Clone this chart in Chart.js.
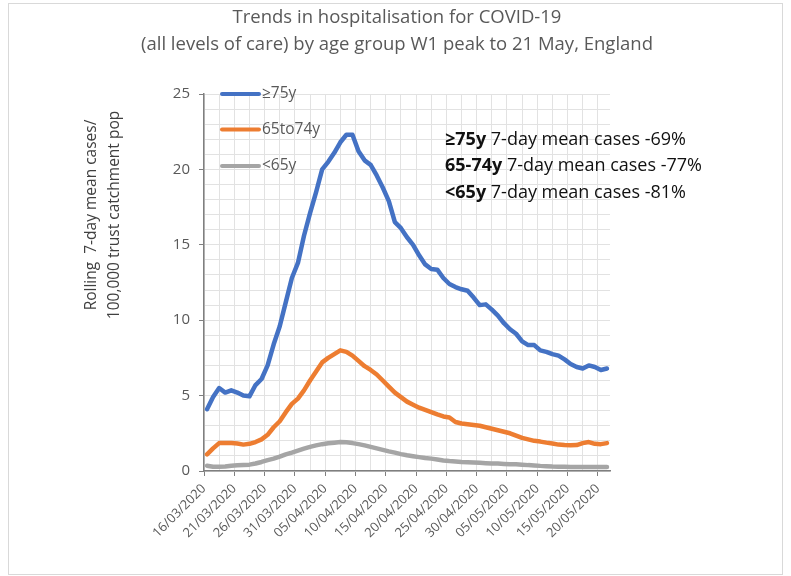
<!DOCTYPE html>
<html>
<head>
<meta charset="utf-8">
<script src="https://cdn.jsdelivr.net/npm/chart.js@4.4.1/dist/chart.umd.min.js"></script>
<style>
html, body { margin: 0; padding: 0; background: #fff; }
#wrap { position: relative; width: 791px; height: 576px; }
canvas { display: block; }
</style>
</head>
<body>
<div id="wrap"><canvas id="c" width="791" height="576"></canvas></div>
<script>
// series, one value per day from 16/03/2020 to 21/05/2020
var seriesNames = ['≥75y', '65to74y', '<65y'];
var seriesColors = ['#4472C4', '#ED7D31', '#A5A5A5'];

var over75 = [4.1, 4.9, 5.5, 5.2, 5.35, 5.2, 5.0, 4.95, 5.7, 6.1,
    7.0, 8.4, 9.6, 11.2, 12.8, 13.8, 15.6, 17.1, 18.5, 20.0,
    20.5, 21.1, 21.8, 22.3, 22.3, 21.2, 20.6, 20.3, 19.6, 18.8,
    17.9, 16.5, 16.1, 15.5, 15.0, 14.3, 13.7, 13.4, 13.35, 12.8,
    12.4, 12.2, 12.05, 11.95, 11.5, 11.0, 11.05, 10.7, 10.3, 9.8,
    9.4, 9.1, 8.6, 8.35, 8.35, 8.0, 7.9, 7.75, 7.65, 7.4,
    7.1, 6.9, 6.8, 7.0, 6.9, 6.7, 6.8];
var age65to74 = [1.1, 1.5, 1.85, 1.85, 1.85, 1.82, 1.75, 1.8, 1.92, 2.1,
    2.4, 2.9, 3.3, 3.9, 4.45, 4.8, 5.35, 6.0, 6.6, 7.2,
    7.5, 7.75, 8.0, 7.9, 7.65, 7.3, 6.95, 6.7, 6.4, 6.0,
    5.6, 5.2, 4.9, 4.6, 4.4, 4.2, 4.05, 3.9, 3.75, 3.62,
    3.55, 3.25, 3.15, 3.1, 3.05, 3.0, 2.9, 2.8, 2.7, 2.6,
    2.5, 2.35, 2.2, 2.1, 2.0, 1.95, 1.88, 1.82, 1.75, 1.72,
    1.7, 1.72, 1.85, 1.92, 1.8, 1.78, 1.85];
var under65 = [0.35, 0.28, 0.28, 0.3, 0.35, 0.38, 0.4, 0.42, 0.5, 0.6,
    0.72, 0.82, 0.95, 1.1, 1.22, 1.35, 1.48, 1.6, 1.7, 1.78,
    1.84, 1.88, 1.92, 1.9, 1.85, 1.78, 1.7, 1.6, 1.5, 1.4,
    1.3, 1.22, 1.12, 1.04, 0.98, 0.92, 0.86, 0.82, 0.76, 0.7,
    0.66, 0.63, 0.6, 0.58, 0.56, 0.54, 0.52, 0.5, 0.49, 0.47,
    0.45, 0.44, 0.42, 0.39, 0.37, 0.34, 0.32, 0.3, 0.29, 0.28,
    0.27, 0.27, 0.27, 0.27, 0.27, 0.27, 0.27];

var yMax = 25;
var yLabelStep = 5;
var xLabelStep = 5;   // a date label every 5 days
var xGridStep = 2.5;  // grid every 2.5 days

var notes = [
    ['≥75y', ' 7-day mean cases -69%'],
    ['65-74y', ' 7-day mean cases -77%'],
    ['<65y', ' 7-day mean cases -81%']
];

// date categories
var dates = [];
var d0 = new Date(2020, 2, 16);
for (var i = 0; i < over75.length; i++) {
    var d = new Date(d0.getFullYear(), d0.getMonth(), d0.getDate() + i);
    var dd = ('0' + d.getDate()).slice(-2);
    var mm = ('0' + (d.getMonth() + 1)).slice(-2);
    dates.push(dd + '/' + mm + '/' + d.getFullYear());
}

var FONT = '"Open Sans", "Noto Sans", sans-serif';

function toPoints(arr) {
    return arr.map(function (v, i) { return {x: i, y: v}; });
}

function isDateTick(value) {
    var k = value + 0.5;
    return Math.abs(k / xLabelStep - Math.round(k / xLabelStep)) < 1e-6;
}

// titles, legend and notes drawn on the canvas
var decorPlugin = {
    id: 'decor',
    afterDraw: function (chart) {
        var ctx = chart.ctx;
        ctx.save();
        // title
        ctx.fillStyle = '#595959';
        ctx.font = '18.5px ' + FONT;
        ctx.textAlign = 'center';
        ctx.textBaseline = 'middle';
        ctx.fillText('Trends in hospitalisation for COVID-19', 397, 18);
        ctx.fillText('(all levels of care) by age group W1 peak to 21 May, England', 397, 45);

        // y axis title
        ctx.save();
        ctx.translate(92, 215);
        ctx.rotate(-Math.PI / 2);
        ctx.fillStyle = '#404040';
        ctx.font = '15.5px ' + FONT;
        ctx.fillText('Rolling  7-day mean cases/', 0, 0);
        ctx.fillText('100,000 trust catchment pop', 0, 23);
        ctx.restore();

        // legend inside plot
        var legY = [94, 129.5, 166];
        chart.data.datasets.forEach(function (ds, i) {
            ctx.strokeStyle = ds.borderColor;
            ctx.lineWidth = 4;
            ctx.lineCap = 'round';
            ctx.beginPath();
            ctx.moveTo(222, legY[i]);
            ctx.lineTo(259, legY[i]);
            ctx.stroke();
            ctx.fillStyle = '#595959';
            ctx.font = '15.5px ' + FONT;
            ctx.textAlign = 'left';
            ctx.fillText(ds.label, 262, legY[i]);
        });

        // notes
        var noteY = [140, 166, 193];
        notes.forEach(function (n, i) {
            ctx.fillStyle = '#111';
            ctx.font = 'bold 18px ' + FONT;
            ctx.textAlign = 'left';
            ctx.fillText(n[0], 445, noteY[i]);
            var w = ctx.measureText(n[0]).width;
            ctx.font = '18px ' + FONT;
            ctx.fillText(n[1], 445 + w, noteY[i]);
        });

        // frame
        ctx.strokeStyle = '#d9d9d9';
        ctx.lineWidth = 1;
        ctx.strokeRect(8.5, 3.5, 774, 571);
        ctx.restore();
    }
};

new Chart(document.getElementById('c'), {
    type: 'line',
    data: {
        datasets: [
            {label: seriesNames[0], data: toPoints(over75), borderColor: seriesColors[0]},
            {label: seriesNames[1], data: toPoints(age65to74), borderColor: seriesColors[1]},
            {label: seriesNames[2], data: toPoints(under65), borderColor: seriesColors[2]}
        ].map(function (ds) {
            ds.borderWidth = 4.5;
            ds.pointRadius = 0;
            ds.tension = 0;
            ds.borderJoinStyle = 'round';
            ds.borderCapStyle = 'round';
            ds.fill = false;
            return ds;
        })
    },
    options: {
        responsive: false,
        animation: false,
        devicePixelRatio: 1,
        layout: {padding: {top: 94, right: 181, left: 0, bottom: 0}},
        plugins: {
            legend: {display: false},
            title: {display: false},
            tooltip: {enabled: false}
        },
        scales: {
            x: {
                type: 'linear',
                min: -0.5,
                max: over75.length - 0.5,
                afterBuildTicks: function (scale) {
                    var t = [];
                    for (var v = -0.5; v <= scale.max + 1e-9; v += xGridStep) t.push({value: v});
                    scale.ticks = t;
                },
                afterFit: function (scale) { scale.height = 105; },
                ticks: {
                    autoSkip: false,
                    maxRotation: 45,
                    minRotation: 45,
                    color: '#595959',
                    font: {family: FONT, size: 13},
                    padding: 5,
                    callback: function (value) {
                        return isDateTick(value) ? dates[Math.round(value + 0.5)] : '';
                    }
                },
                grid: {
                    color: '#e2e2e2',
                    lineWidth: 1,
                    tickLength: 5,
                    tickColor: function (c) {
                        return c.tick && isDateTick(c.tick.value) ? '#7f7f7f' : 'rgba(0,0,0,0)';
                    }
                },
                border: {color: '#7f7f7f', width: 1.5}
            },
            y: {
                min: 0,
                max: yMax,
                afterBuildTicks: function (scale) {
                    var t = [];
                    for (var v = 0; v <= yMax; v++) t.push({value: v});
                    scale.ticks = t;
                },
                afterFit: function (scale) { scale.width = 204; },
                ticks: {
                    autoSkip: false,
                    color: '#595959',
                    font: {family: FONT, size: 15},
                    padding: 9,
                    callback: function (value) {
                        return value % yLabelStep === 0 ? value : '';
                    }
                },
                grid: {
                    color: '#e2e2e2',
                    lineWidth: 1,
                    tickLength: 5,
                    tickColor: function (c) {
                        return c.tick && c.tick.value % yLabelStep === 0 ? '#7f7f7f' : 'rgba(0,0,0,0)';
                    }
                },
                border: {color: '#7f7f7f', width: 1.5}
            }
        }
    },
    plugins: [decorPlugin]
});
</script>
</body>
</html>
